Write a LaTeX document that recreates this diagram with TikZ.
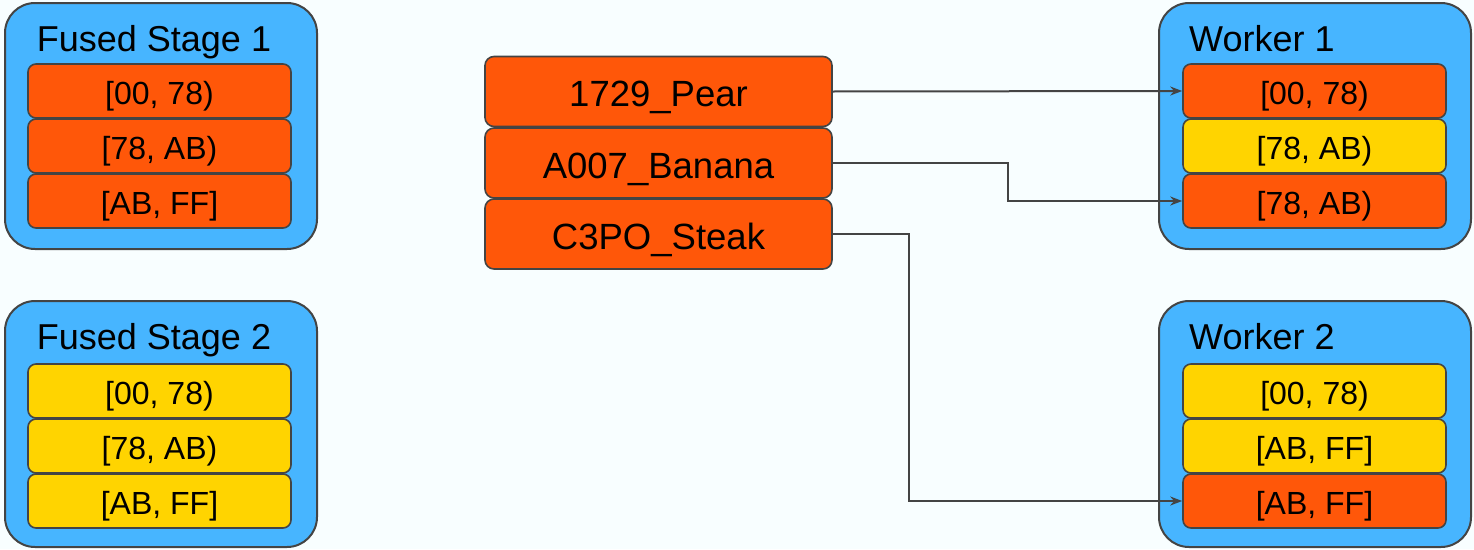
\documentclass[tikz,border=0pt]{standalone}
\usepackage{fontspec}
\setmainfont{Liberation Sans}
\usetikzlibrary{arrows.meta}
\definecolor{bg}{HTML}{F8FEFF}
\definecolor{panel}{HTML}{47B5FF}
\definecolor{hot}{HTML}{FF5709}
\definecolor{cold}{HTML}{FFD400}
\definecolor{edge}{HTML}{444444}
\begin{document}
\begin{tikzpicture}[x=1pt,y=-1pt,
  panelbox/.style={draw=edge,line width=2pt,fill=panel,rounded corners=30pt,
    minimum width=312pt,minimum height=246pt,inner sep=0pt},
  % the extra text height sits the capitals slightly below the box centre
  rangebox/.style={draw=edge,line width=1.6pt,rounded corners=8pt,
    minimum width=263pt,minimum height=54pt,inner sep=0pt,
    text height=27pt,text depth=0pt,font=\fontsize{32}{32}\selectfont},
  hotbox/.style={rangebox,fill=hot},
  coldbox/.style={rangebox,fill=cold},
  keybox/.style={draw=edge,line width=1.6pt,fill=hot,rounded corners=9pt,
    minimum width=347pt,minimum height=70pt,inner sep=0pt,
    text height=30.5pt,text depth=0pt,font=\fontsize{36.5}{36.5}\selectfont},
  title/.style={inner sep=0pt,text height=25pt,text depth=0pt,
    font=\fontsize{36}{36}\selectfont},
  link/.style={draw=edge,line width=2pt,-{Stealth[length=12pt,width=9pt]}}]
\fill[bg] (0,0) rectangle (1474,549);
\useasboundingbox (0,0) rectangle (1474,549);

% stage panels
\node[panelbox] (fs1) at (161,126) {};
\node[title] (fs1t) at (154,39) {Fused Stage 1};
\node[hotbox] (fs1a) at (159.5,91) {[00, 78)};
\node[hotbox] (fs1b) at (159.5,146) {[78, AB)};
\node[hotbox] (fs1c) at (159.5,201) {[AB, FF]};

\node[panelbox] (fs2) at (161,424) {};
\node[title] (fs2t) at (154,337) {Fused Stage 2};
\node[coldbox] (fs2a) at (159.5,391) {[00, 78)};
\node[coldbox] (fs2b) at (159.5,446) {[78, AB)};
\node[coldbox] (fs2c) at (159.5,501) {[AB, FF]};

% keys
\node[keybox] (pear) at (658.5,91.5) {1729\_Pear};
\node[keybox] (banana) at (658.5,163) {A007\_Banana};
\node[keybox] (steak) at (658.5,234) {C3PO\_Steak};

% worker panels
\node[panelbox] (w1) at (1315,126) {};
\node[title,anchor=west] (w1t) at (1189,39) {Worker 1};
\node[hotbox] (w1a) at (1314.5,91) {[00, 78)};
\node[coldbox] (w1b) at (1314.5,146) {[78, AB)};
\node[hotbox] (w1c) at (1314.5,201) {[78, AB)};

\node[panelbox] (w2) at (1315,424) {};
\node[title,anchor=west] (w2t) at (1189,337) {Worker 2};
\node[coldbox] (w2a) at (1314.5,391) {[00, 78)};
\node[coldbox] (w2b) at (1314.5,446) {[AB, FF]};
\node[hotbox] (w2c) at (1314.5,501) {[AB, FF]};

% routing
\coordinate (turn1) at (1008,0);
\coordinate (turn2) at (909,0);
\draw[link] (pear.east) -- (w1a.west);
\draw[link] (banana.east) -- (banana.east -| turn1) |- (w1c.west);
\draw[link] (steak.east) -- (steak.east -| turn2) |- (w2c.west);
\end{tikzpicture}
\end{document}
